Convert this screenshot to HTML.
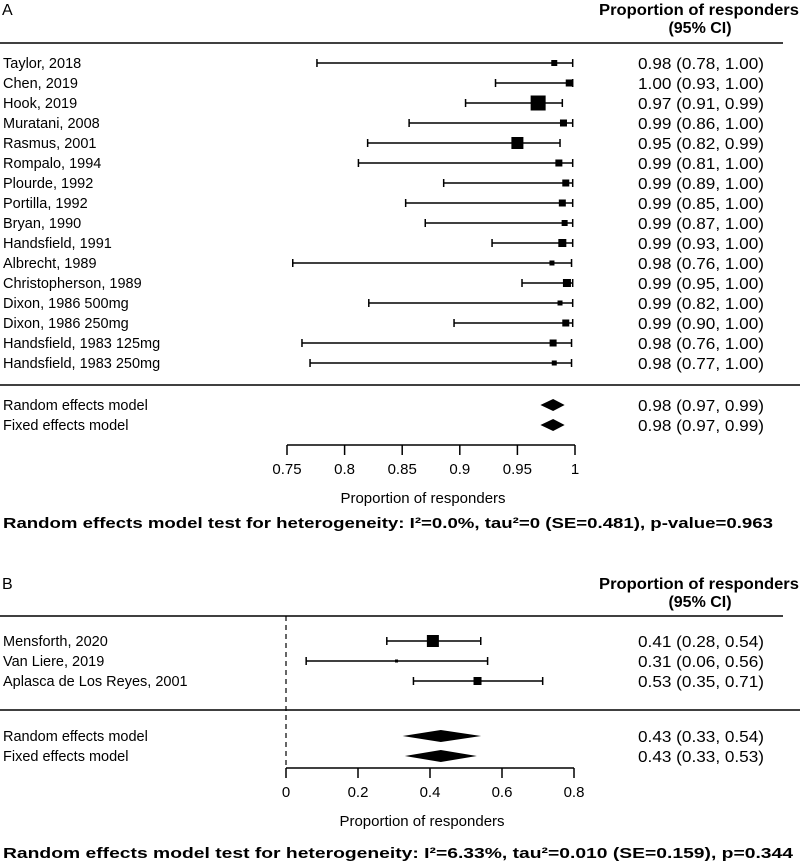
<!DOCTYPE html>
<html><head><meta charset="utf-8"><style>
html,body{margin:0;padding:0;background:#fff;}
svg{display:block;font-family:"Liberation Sans",Arial,sans-serif;}
</style></head><body>
<svg id="chart" width="800" height="865" viewBox="0 0 800 865"></svg>
<script>
const studiesA = ["Taylor, 2018","Chen, 2019","Hook, 2019","Muratani, 2008","Rasmus, 2001","Rompalo, 1994","Plourde, 1992","Portilla, 1992","Bryan, 1990","Handsfield, 1991","Albrecht, 1989","Christopherson, 1989","Dixon, 1986 500mg","Dixon, 1986 250mg","Handsfield, 1983 125mg","Handsfield, 1983 250mg"];
const estA = [0.982,0.995,0.968,0.990,0.950,0.986,0.992,0.989,0.991,0.989,0.980,0.993,0.987,0.992,0.981,0.982];
const loA = [0.776,0.931,0.905,0.856,0.820,0.812,0.886,0.853,0.870,0.928,0.755,0.954,0.821,0.895,0.763,0.770];
const hiA = [0.998,0.998,0.989,0.998,0.987,0.998,0.998,0.998,0.998,0.998,0.997,0.998,0.998,0.998,0.997,0.997];
const sizeA = [6,7,15,7,12,7,7,7,6,8,5,8,5,7,7,5];
const labelsA = ["0.98 (0.78, 1.00)","1.00 (0.93, 1.00)","0.97 (0.91, 0.99)","0.99 (0.86, 1.00)","0.95 (0.82, 0.99)","0.99 (0.81, 1.00)","0.99 (0.89, 1.00)","0.99 (0.85, 1.00)","0.99 (0.87, 1.00)","0.99 (0.93, 1.00)","0.98 (0.76, 1.00)","0.99 (0.95, 1.00)","0.99 (0.82, 1.00)","0.99 (0.90, 1.00)","0.98 (0.76, 1.00)","0.98 (0.77, 1.00)"];
const modelsA = ["Random effects model","Fixed effects model"];
const modelEstA = [0.981,0.981];
const modelLoA = [0.970,0.970];
const modelHiA = [0.991,0.991];
const modelLabelsA = ["0.98 (0.97, 0.99)","0.98 (0.97, 0.99)"];
const ticksA = [0.75,0.8,0.85,0.9,0.95,1];
const tickLabelsA = ["0.75","0.8","0.85","0.9","0.95","1"];

const studiesB = ["Mensforth, 2020","Van Liere, 2019","Aplasca de Los Reyes, 2001"];
const estB = [0.408,0.307,0.532];
const loB = [0.280,0.056,0.354];
const hiB = [0.541,0.560,0.713];
const sizeB = [12,3,8];
const labelsB = ["0.41 (0.28, 0.54)","0.31 (0.06, 0.56)","0.53 (0.35, 0.71)"];
const modelsB = ["Random effects model","Fixed effects model"];
const modelEstB = [0.43,0.43];
const modelLoB = [0.324,0.330];
const modelHiB = [0.542,0.530];
const modelLabelsB = ["0.43 (0.33, 0.54)","0.43 (0.33, 0.53)"];
const ticksB = [0,0.2,0.4,0.6,0.8];
const tickLabelsB = ["0","0.2","0.4","0.6","0.8"];

const svg = document.getElementById('chart');
const NS = "http://www.w3.org/2000/svg";
function mk(tag, attrs, parent){
  const e = document.createElementNS(NS, tag);
  for (const k in attrs) e.setAttribute(k, attrs[k]);
  (parent||svg).appendChild(e);
  return e;
}
function txt(x,y,s,opts,parent){
  const t = mk('text',Object.assign({x:x,y:y,'font-size':14,fill:'#000'},opts||{}),parent);
  t.textContent = s;
  return t;
}
const VAL = {'font-size':16,textLength:126,lengthAdjust:'spacingAndGlyphs'};

function panel(cfg){
  const g = mk('g',{});
  
  
  const xs = v => cfg.x0 + (v - cfg.d0) * cfg.scale;
  const L = txt(2, cfg.top+15, cfg.letter, {'font-size':16}, g);
  
  
  const h1 = txt(599, cfg.top+15, "Proportion of responders", {'font-size':16,'font-weight':'bold',textLength:200,lengthAdjust:'spacingAndGlyphs'}, g);
  
  
  const h2 = txt(700, cfg.top+33, "(95% CI)", {'font-size':16,'font-weight':'bold','text-anchor':'middle'}, g);
  
  
  const hl = mk('line',{x1:0,x2:783,y1:cfg.headLine,y2:cfg.headLine,stroke:'#000','stroke-width':1.5},g);
  
  
  const sl = mk('line',{x1:0,x2:800,y1:cfg.sepLine,y2:cfg.sepLine,stroke:'#000','stroke-width':1.5},g);
  
  
  if (cfg.refLine !== undefined){
    const rl = mk('line',{x1:xs(cfg.refLine),x2:xs(cfg.refLine),y1:cfg.headLine,y2:cfg.axisY,stroke:'#000','stroke-width':1.2,'stroke-dasharray':'5,4'},g);
    
    
  }
  cfg.studies.forEach((s,i)=>{
    const y = cfg.row0 + i*cfg.rowH;
    const rg = mk('g',{},g);
    
    
    const sn = txt(3, y+5, s, {'font-size':14.5}, rg);
    
    
    const ci = mk('line',{x1:xs(cfg.lo[i]),x2:xs(cfg.hi[i]),y1:y,y2:y,stroke:'#000','stroke-width':1.5},rg);
    
    
    [cfg.lo[i],cfg.hi[i]].forEach(v=>{
      const c = mk('line',{x1:xs(v),x2:xs(v),y1:y-4,y2:y+4,stroke:'#000','stroke-width':1.5},rg);
      
      
    });
    const sz = cfg.size[i];
    const sq = mk('rect',{x:xs(cfg.est[i])-sz/2,y:y-sz/2,width:sz,height:sz,fill:'#000'},rg);
    
    
    const lb = txt(cfg.valX, y+6, cfg.labels[i], VAL, rg);
    
    
  });
  cfg.models.forEach((m,i)=>{
    const y = cfg.mrow0 + i*cfg.rowH;
    const mg = mk('g',{},g);
    
    
    const mn = txt(3, y+5, m, {'font-size':14.5}, mg);
    
    
    const d = mk('polygon',{points:`${xs(cfg.mlo[i])},${y} ${xs(cfg.mest[i])},${y-6} ${xs(cfg.mhi[i])},${y} ${xs(cfg.mest[i])},${y+6}`,fill:'#000'},mg);
    
    
    const ml = txt(cfg.valX, y+6, cfg.mlabels[i], VAL, mg);
    
    
  });
  const ax = mk('g',{},g);
  
  
  mk('line',{x1:xs(cfg.ticks[0]),x2:xs(cfg.ticks[cfg.ticks.length-1]),y1:cfg.axisY,y2:cfg.axisY,stroke:'#000','stroke-width':1.5},ax);
  cfg.ticks.forEach((t,i)=>{
    const tk = mk('line',{x1:xs(t),x2:xs(t),y1:cfg.axisY,y2:cfg.axisY+10,stroke:'#000','stroke-width':1.5},ax);
    
    
    const tl = txt(xs(t), cfg.axisY+29, cfg.tickLabels[i], {'text-anchor':'middle','font-size':15}, ax);
    
    
  });
  const xt = txt(xs((cfg.ticks[0]+cfg.ticks[cfg.ticks.length-1])/2)-8, cfg.axisY+58, "Proportion of responders", {'text-anchor':'middle','font-size':15}, g);
  
  
  const ht = txt(3, cfg.hetY, cfg.het, {'font-weight':'bold','font-size':15,textLength:cfg.hetLen,lengthAdjust:'spacingAndGlyphs'}, g);
  
  
}

panel({name:'panel-a',letter:'A',top:0,x0:287,d0:0.75,scale:1152,headLine:43,sepLine:385,row0:63,rowH:20,mrow0:405,axisY:445,valX:638,
  studies:studiesA,est:estA,lo:loA,hi:hiA,size:sizeA,labels:labelsA,models:modelsA,mest:modelEstA,mlo:modelLoA,mhi:modelHiA,mlabels:modelLabelsA,
  ticks:ticksA,tickLabels:tickLabelsA,hetY:528,hetLen:770,het:"Random effects model test for heterogeneity: I\u00b2=0.0%, tau\u00b2=0 (SE=0.481), p-value=0.963"});
panel({name:'panel-b',letter:'B',top:574,x0:286,d0:0,scale:360,headLine:616,sepLine:710,row0:641,rowH:20,mrow0:736,axisY:768,valX:638,refLine:0,
  studies:studiesB,est:estB,lo:loB,hi:hiB,size:sizeB,labels:labelsB,models:modelsB,mest:modelEstB,mlo:modelLoB,mhi:modelHiB,mlabels:modelLabelsB,
  ticks:ticksB,tickLabels:tickLabelsB,hetY:858,hetLen:790,het:"Random effects model test for heterogeneity: I\u00b2=6.33%, tau\u00b2=0.010 (SE=0.159), p=0.344"});
</script>
</body></html>
